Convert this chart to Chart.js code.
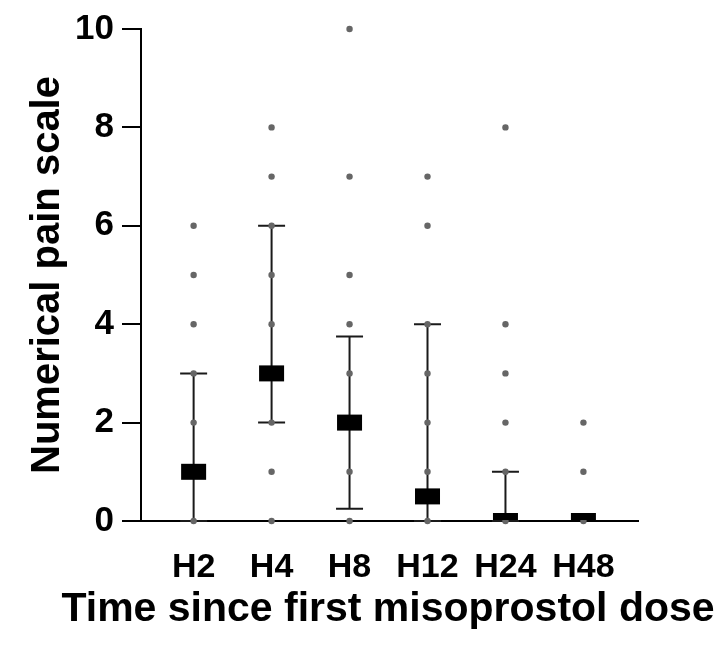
<!DOCTYPE html>
<html>
<head>
<meta charset="utf-8">
<script src="https://cdn.jsdelivr.net/npm/chart.js@4/dist/chart.umd.min.js"></script>
<style>
    html, body { margin: 0; padding: 0; background: #fff; }
    #wrap { width: 725px; height: 649px; position: relative; }
</style>
</head>
<body>
<div id="wrap"><canvas id="MyChart1"></canvas></div>
<script>
// categories + values
var Groups = ['H2', 'H4', 'H8', 'H12', 'H24', 'H48'];
var Scores_H2 = [0, 1, 2, 3, 4, 5, 6];
var Scores_H4 = [0, 1, 2, 3, 4, 5, 6, 7, 8];
var Scores_H8 = [0, 1, 2, 3, 4, 5, 7, 10];
var Scores_H12 = [0, 1, 2, 3, 4, 6, 7];
var Scores_H24 = [0, 1, 2, 3, 4, 8];
var Scores_H48 = [0, 1, 2];
var Median = [1, 3, 2, 0.5, 0, 0];
var IqrLow = [0, 2, 0.25, 0, 0, null];
var IqrHigh = [3, 6, 3.75, 4, 1, null];
var YTicks = [0, 2, 4, 6, 8, 10];
var XTitle = 'Time since first misoprostol dose';

var FONT = '"Liberation Sans", Arial, sans-serif';

function LoadChart() {
    var allScores = [Scores_H2, Scores_H4, Scores_H8, Scores_H12, Scores_H24, Scores_H48];
    var dots = [];
    allScores.forEach(function (arr, inx) {
        arr.forEach(function (v) {
            dots.push({ x: inx + 1, y: v });
        });
    });

    // error bars (under the dots) and median boxes (on top)
    var summaryPlugin = {
        id: 'summary',
        beforeDatasetsDraw: function (chart) {
            var ctx = chart.ctx, xs = chart.scales.x, ys = chart.scales.y;
            ctx.save();
            ctx.strokeStyle = '#1a1a1a';
            ctx.lineWidth = 2;
            for (var i = 0; i < Groups.length; i++) {
                if (IqrLow[i] == null) continue;
                var px = xs.getPixelForValue(i + 1);
                var lo = ys.getPixelForValue(IqrLow[i]);
                var hi = ys.getPixelForValue(IqrHigh[i]);
                ctx.beginPath();
                ctx.moveTo(px, lo); ctx.lineTo(px, hi);
                ctx.moveTo(px - 13.5, lo); ctx.lineTo(px + 13.5, lo);
                ctx.moveTo(px - 13.5, hi); ctx.lineTo(px + 13.5, hi);
                ctx.stroke();
            }
            ctx.restore();
        },
        afterDatasetsDraw: function (chart) {
            var ctx = chart.ctx, xs = chart.scales.x, ys = chart.scales.y, a = chart.chartArea;
            ctx.save();
            ctx.beginPath();
            ctx.rect(a.left, a.top, a.right - a.left, a.bottom - a.top - 1);
            ctx.clip();
            ctx.fillStyle = '#000';
            for (var i = 0; i < Groups.length; i++) {
                var px = xs.getPixelForValue(i + 1);
                var py = ys.getPixelForValue(Median[i]);
                ctx.fillRect(px - 12.5, py - 8, 25, 16);
            }
            ctx.restore();
        },
        // x title is wider than the axis, so the built-in one gets squeezed
        afterDraw: function (chart) {
            var ctx = chart.ctx;
            ctx.save();
            ctx.fillStyle = '#000';
            ctx.font = 'bold 41px ' + FONT;
            ctx.textAlign = 'center';
            ctx.textBaseline = 'middle';
            ctx.fillText(XTitle, 388, 610);
            ctx.restore();
        }
    };

    var ctx = document.getElementById('MyChart1').getContext('2d');
    var config = {
        type: 'scatter',
        data: {
            datasets: [{
                label: 'Pain',
                data: dots,
                backgroundColor: '#666666',
                borderColor: '#666666',
                pointRadius: 3.2,
                borderWidth: 0,
                clip: false
            }]
        },
        options: {
            maintainAspectRatio: false,
            responsive: true,
            animation: false,
            layout: { padding: { top: 25, right: 87, left: 0, bottom: 0 } },
            plugins: { legend: { display: false }, tooltip: { enabled: false } },
            scales: {
                x: {
                    type: 'linear',
                    min: 0.325,
                    max: 6.7,
                    afterBuildTicks: function (scale) {
                        scale.ticks = Groups.map(function (g, i) { return { value: i + 1 }; });
                    },
                    afterFit: function (scale) { scale.height = 128; },
                    grid: { display: false, drawTicks: false },
                    border: { display: true, color: '#000', width: 2 },
                    ticks: {
                        color: '#000',
                        padding: 26,
                        maxRotation: 0,
                        autoSkip: false,
                        font: { family: FONT, size: 34, weight: 'bold' },
                        callback: function (v) { return Groups[v - 1]; }
                    }
                },
                y: {
                    min: 0,
                    max: 10,
                    afterBuildTicks: function (scale) {
                        scale.ticks = YTicks.map(function (v) { return { value: v }; });
                    },
                    afterFit: function (scale) { scale.width = 141; },
                    grid: { drawOnChartArea: false, drawTicks: true, tickLength: 19, color: '#000', lineWidth: 2 },
                    border: { display: true, color: '#000', width: 2 },
                    ticks: {
                        color: '#000',
                        padding: 8,
                        font: { family: FONT, size: 35, weight: 'bold' }
                    },
                    title: {
                        display: true,
                        text: 'Numerical pain scale',
                        color: '#000',
                        padding: { top: 24, bottom: 0 },
                        font: { family: FONT, size: 40, weight: 'bold' }
                    }
                }
            }
        },
        plugins: [summaryPlugin]
    };
    window.bar = new Chart(ctx, config);
}

LoadChart();
</script>
</body>
</html>
